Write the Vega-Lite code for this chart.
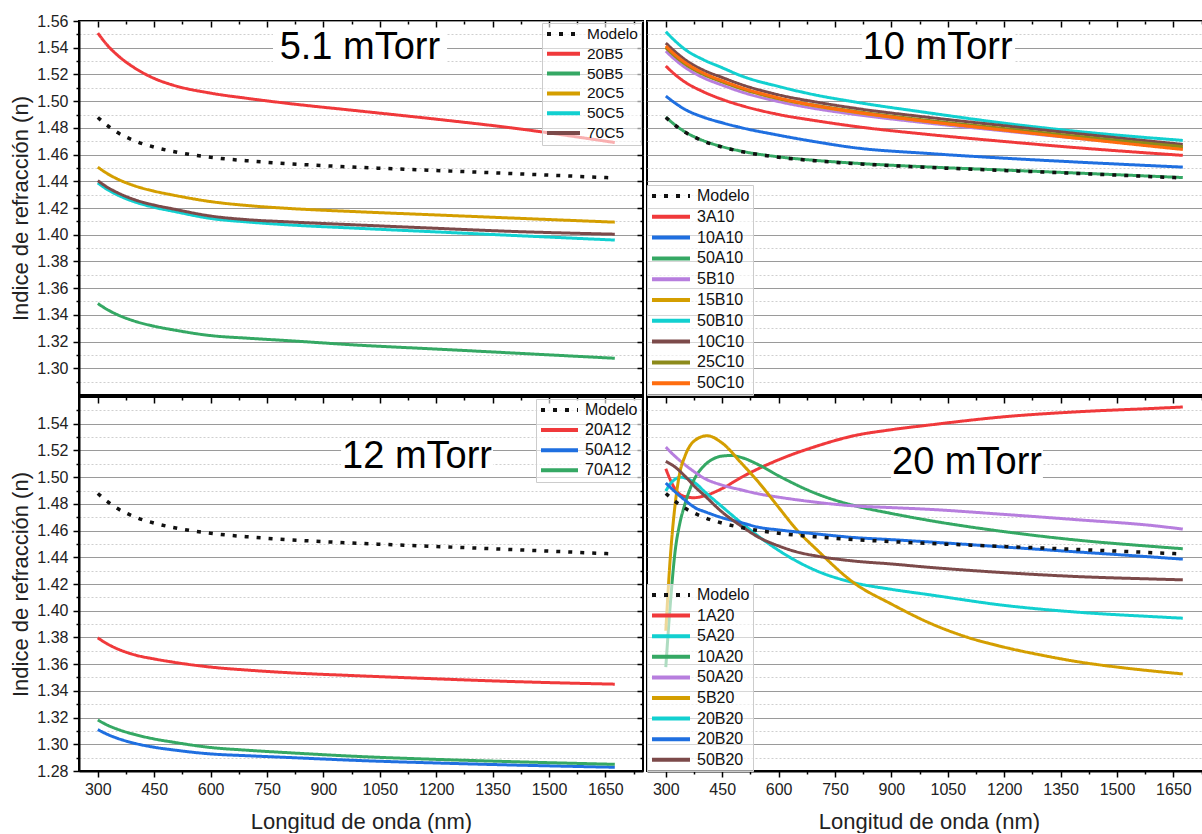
{
"$schema": "https://vega.github.io/schema/vega-lite/v6.json",
"background": "white",
"padding": {"left": 8, "top": 12, "right": 0, "bottom": 0},
"config": {
  "font": "Liberation Sans",
  "view": {"stroke": "black", "strokeWidth": 2},
  "axis": {"domainColor": "black", "domainWidth": 2, "tickColor": "black", "tickWidth": 1.5, "labelFont": "Liberation Sans", "labelFontSize": 16, "labelColor": "#222222", "titleFont": "Liberation Sans", "titleFontSize": 22, "titleFontWeight": "normal", "titleColor": "#222222", "labelOverlap": false},
  "legend": {"labelFont": "Liberation Sans", "labelFontSize": 16, "labelColor": "#111111", "symbolType": "stroke", "symbolStrokeWidth": 4, "symbolSize": 1444, "clipHeight": 16, "fillColor": "rgba(255,255,255,0.6)", "strokeColor": "#cccccc", "padding": 3, "labelOffset": 5}
},
"datasets": {
"modelo": [
{"s":"Modelo","x":300,"n":1.4878},{"s":"Modelo","x":325,"n":1.4818},{"s":"Modelo","x":350,"n":1.4769},{"s":"Modelo","x":400,"n":1.4701},{"s":"Modelo","x":450,"n":1.4656},{"s":"Modelo","x":500,"n":1.4623},{"s":"Modelo","x":600,"n":1.458},{"s":"Modelo","x":700,"n":1.4553},{"s":"Modelo","x":800,"n":1.4533},{"s":"Modelo","x":1000,"n":1.4504},{"s":"Modelo","x":1200,"n":1.4481},{"s":"Modelo","x":1400,"n":1.4458},{"s":"Modelo","x":1675,"n":1.4425}
],
"p1": [
{"s":"20B5","x":300,"n":1.551},{"s":"20B5","x":325,"n":1.542},{"s":"20B5","x":350,"n":1.535},{"s":"20B5","x":400,"n":1.5245},{"s":"20B5","x":450,"n":1.517},{"s":"20B5","x":500,"n":1.512},{"s":"20B5","x":600,"n":1.506},{"s":"20B5","x":700,"n":1.502},{"s":"20B5","x":800,"n":1.4985},{"s":"20B5","x":1000,"n":1.4925},{"s":"20B5","x":1200,"n":1.4865},{"s":"20B5","x":1400,"n":1.48},{"s":"20B5","x":1675,"n":1.469},
{"s":"50B5","x":300,"n":1.3485},{"s":"50B5","x":325,"n":1.344},{"s":"50B5","x":350,"n":1.3404},{"s":"50B5","x":400,"n":1.3351},{"s":"50B5","x":450,"n":1.3315},{"s":"50B5","x":500,"n":1.3288},{"s":"50B5","x":600,"n":1.3245},{"s":"50B5","x":700,"n":1.3225},{"s":"50B5","x":800,"n":1.3208},{"s":"50B5","x":1000,"n":1.3172},{"s":"50B5","x":1200,"n":1.3144},{"s":"50B5","x":1400,"n":1.3115},{"s":"50B5","x":1675,"n":1.3075},
{"s":"20C5","x":300,"n":1.4506},{"s":"20C5","x":325,"n":1.4458},{"s":"20C5","x":350,"n":1.442},{"s":"20C5","x":400,"n":1.4364},{"s":"20C5","x":450,"n":1.4326},{"s":"20C5","x":500,"n":1.4297},{"s":"20C5","x":600,"n":1.4248},{"s":"20C5","x":700,"n":1.4218},{"s":"20C5","x":800,"n":1.4198},{"s":"20C5","x":1000,"n":1.4171},{"s":"20C5","x":1200,"n":1.4148},{"s":"20C5","x":1400,"n":1.4125},{"s":"20C5","x":1675,"n":1.4094},
{"s":"50C5","x":300,"n":1.4388},{"s":"50C5","x":325,"n":1.4339},{"s":"50C5","x":350,"n":1.4301},{"s":"50C5","x":400,"n":1.4244},{"s":"50C5","x":450,"n":1.4205},{"s":"50C5","x":500,"n":1.4176},{"s":"50C5","x":600,"n":1.4122},{"s":"50C5","x":700,"n":1.4095},{"s":"50C5","x":800,"n":1.4075},{"s":"50C5","x":1000,"n":1.4047},{"s":"50C5","x":1200,"n":1.4021},{"s":"50C5","x":1400,"n":1.3995},{"s":"50C5","x":1675,"n":1.396},
{"s":"70C5","x":300,"n":1.4405},{"s":"70C5","x":325,"n":1.4356},{"s":"70C5","x":350,"n":1.4318},{"s":"70C5","x":400,"n":1.426},{"s":"70C5","x":450,"n":1.4222},{"s":"70C5","x":500,"n":1.4193},{"s":"70C5","x":600,"n":1.414},{"s":"70C5","x":700,"n":1.4112},{"s":"70C5","x":800,"n":1.4097},{"s":"70C5","x":1000,"n":1.4072},{"s":"70C5","x":1200,"n":1.4048},{"s":"70C5","x":1400,"n":1.4025},{"s":"70C5","x":1675,"n":1.4004}
],
"p2": [
{"s":"3A10","x":300,"n":1.5263},{"s":"3A10","x":325,"n":1.5198},{"s":"3A10","x":350,"n":1.5145},{"s":"3A10","x":400,"n":1.507},{"s":"3A10","x":450,"n":1.5013},{"s":"3A10","x":500,"n":1.4968},{"s":"3A10","x":600,"n":1.49},{"s":"3A10","x":700,"n":1.4853},{"s":"3A10","x":800,"n":1.4812},{"s":"3A10","x":1000,"n":1.475},{"s":"3A10","x":1200,"n":1.4698},{"s":"3A10","x":1400,"n":1.465},{"s":"3A10","x":1675,"n":1.4594},
{"s":"10A10","x":300,"n":1.5038},{"s":"10A10","x":325,"n":1.4985},{"s":"10A10","x":350,"n":1.494},{"s":"10A10","x":400,"n":1.488},{"s":"10A10","x":450,"n":1.4838},{"s":"10A10","x":500,"n":1.4802},{"s":"10A10","x":600,"n":1.4745},{"s":"10A10","x":700,"n":1.4695},{"s":"10A10","x":800,"n":1.4652},{"s":"10A10","x":1000,"n":1.4608},{"s":"10A10","x":1200,"n":1.4573},{"s":"10A10","x":1400,"n":1.4543},{"s":"10A10","x":1675,"n":1.4506},
{"s":"50A10","x":300,"n":1.4881},{"s":"50A10","x":325,"n":1.4821},{"s":"50A10","x":350,"n":1.4772},{"s":"50A10","x":400,"n":1.4704},{"s":"50A10","x":450,"n":1.4659},{"s":"50A10","x":500,"n":1.4626},{"s":"50A10","x":600,"n":1.4583},{"s":"50A10","x":700,"n":1.4556},{"s":"50A10","x":800,"n":1.4536},{"s":"50A10","x":1000,"n":1.4507},{"s":"50A10","x":1200,"n":1.4484},{"s":"50A10","x":1400,"n":1.4461},{"s":"50A10","x":1675,"n":1.4428},
{"s":"5B10","x":300,"n":1.5375},{"s":"5B10","x":325,"n":1.531},{"s":"5B10","x":350,"n":1.5255},{"s":"5B10","x":400,"n":1.5175},{"s":"5B10","x":450,"n":1.512},{"s":"5B10","x":500,"n":1.507},{"s":"5B10","x":600,"n":1.4997},{"s":"5B10","x":700,"n":1.4943},{"s":"5B10","x":800,"n":1.4902},{"s":"5B10","x":1000,"n":1.4835},{"s":"5B10","x":1200,"n":1.4777},{"s":"5B10","x":1400,"n":1.472},{"s":"5B10","x":1675,"n":1.465},
{"s":"15B10","x":300,"n":1.5405},{"s":"15B10","x":325,"n":1.534},{"s":"15B10","x":350,"n":1.5284},{"s":"15B10","x":400,"n":1.5203},{"s":"15B10","x":450,"n":1.5146},{"s":"15B10","x":500,"n":1.5095},{"s":"15B10","x":600,"n":1.5018},{"s":"15B10","x":700,"n":1.4962},{"s":"15B10","x":800,"n":1.4918},{"s":"15B10","x":1000,"n":1.4846},{"s":"15B10","x":1200,"n":1.4785},{"s":"15B10","x":1400,"n":1.4725},{"s":"15B10","x":1675,"n":1.4648},
{"s":"50B10","x":300,"n":1.552},{"s":"50B10","x":325,"n":1.545},{"s":"50B10","x":350,"n":1.539},{"s":"50B10","x":400,"n":1.531},{"s":"50B10","x":450,"n":1.525},{"s":"50B10","x":500,"n":1.519},{"s":"50B10","x":600,"n":1.511},{"s":"50B10","x":700,"n":1.5045},{"s":"50B10","x":800,"n":1.4995},{"s":"50B10","x":1000,"n":1.4912},{"s":"50B10","x":1200,"n":1.4835},{"s":"50B10","x":1400,"n":1.4772},{"s":"50B10","x":1675,"n":1.4706},
{"s":"10C10","x":300,"n":1.5435},{"s":"10C10","x":325,"n":1.537},{"s":"10C10","x":350,"n":1.5313},{"s":"10C10","x":400,"n":1.5232},{"s":"10C10","x":450,"n":1.5177},{"s":"10C10","x":500,"n":1.5125},{"s":"10C10","x":600,"n":1.5047},{"s":"10C10","x":700,"n":1.4993},{"s":"10C10","x":800,"n":1.4948},{"s":"10C10","x":1000,"n":1.4878},{"s":"10C10","x":1200,"n":1.4816},{"s":"10C10","x":1400,"n":1.4755},{"s":"10C10","x":1675,"n":1.4676},
{"s":"25C10","x":300,"n":1.54},{"s":"25C10","x":325,"n":1.5335},{"s":"25C10","x":350,"n":1.528},{"s":"25C10","x":400,"n":1.52},{"s":"25C10","x":450,"n":1.5145},{"s":"25C10","x":500,"n":1.5095},{"s":"25C10","x":600,"n":1.502},{"s":"25C10","x":700,"n":1.4968},{"s":"25C10","x":800,"n":1.4925},{"s":"25C10","x":1000,"n":1.4855},{"s":"25C10","x":1200,"n":1.4795},{"s":"25C10","x":1400,"n":1.4735},{"s":"25C10","x":1675,"n":1.466},
{"s":"50C10","x":300,"n":1.5413},{"s":"50C10","x":325,"n":1.5347},{"s":"50C10","x":350,"n":1.5292},{"s":"50C10","x":400,"n":1.521},{"s":"50C10","x":450,"n":1.5153},{"s":"50C10","x":500,"n":1.5102},{"s":"50C10","x":600,"n":1.5024},{"s":"50C10","x":700,"n":1.4966},{"s":"50C10","x":800,"n":1.4921},{"s":"50C10","x":1000,"n":1.4847},{"s":"50C10","x":1200,"n":1.4783},{"s":"50C10","x":1400,"n":1.472},{"s":"50C10","x":1675,"n":1.4638}
],
"p3": [
{"s":"20A12","x":300,"n":1.3797},{"s":"20A12","x":325,"n":1.3752},{"s":"20A12","x":350,"n":1.3717},{"s":"20A12","x":400,"n":1.3668},{"s":"20A12","x":450,"n":1.3639},{"s":"20A12","x":500,"n":1.3615},{"s":"20A12","x":600,"n":1.3578},{"s":"20A12","x":700,"n":1.3555},{"s":"20A12","x":800,"n":1.3537},{"s":"20A12","x":1000,"n":1.3512},{"s":"20A12","x":1200,"n":1.349},{"s":"20A12","x":1400,"n":1.347},{"s":"20A12","x":1675,"n":1.345},
{"s":"50A12","x":300,"n":1.311},{"s":"50A12","x":325,"n":1.3075},{"s":"50A12","x":350,"n":1.3047},{"s":"50A12","x":400,"n":1.3006},{"s":"50A12","x":450,"n":1.2978},{"s":"50A12","x":500,"n":1.2958},{"s":"50A12","x":600,"n":1.2928},{"s":"50A12","x":700,"n":1.2914},{"s":"50A12","x":800,"n":1.2902},{"s":"50A12","x":1000,"n":1.2878},{"s":"50A12","x":1200,"n":1.286},{"s":"50A12","x":1400,"n":1.2845},{"s":"50A12","x":1675,"n":1.2828},
{"s":"70A12","x":300,"n":1.3182},{"s":"70A12","x":325,"n":1.3144},{"s":"70A12","x":350,"n":1.3115},{"s":"70A12","x":400,"n":1.3072},{"s":"70A12","x":450,"n":1.304},{"s":"70A12","x":500,"n":1.3016},{"s":"70A12","x":600,"n":1.2976},{"s":"70A12","x":700,"n":1.2955},{"s":"70A12","x":800,"n":1.2938},{"s":"70A12","x":1000,"n":1.2908},{"s":"70A12","x":1200,"n":1.2887},{"s":"70A12","x":1400,"n":1.287},{"s":"70A12","x":1675,"n":1.285}
],
"p4": [
{"s":"1A20","x":300,"n":1.5063},{"s":"1A20","x":312,"n":1.498},{"s":"1A20","x":325,"n":1.491},{"s":"1A20","x":350,"n":1.4855},{"s":"1A20","x":375,"n":1.4846},{"s":"1A20","x":400,"n":1.4858},{"s":"1A20","x":450,"n":1.4915},{"s":"1A20","x":500,"n":1.4997},{"s":"1A20","x":600,"n":1.513},{"s":"1A20","x":700,"n":1.5231},{"s":"1A20","x":800,"n":1.531},{"s":"1A20","x":900,"n":1.5355},{"s":"1A20","x":1000,"n":1.539},{"s":"1A20","x":1200,"n":1.5452},{"s":"1A20","x":1400,"n":1.549},{"s":"1A20","x":1600,"n":1.5515},{"s":"1A20","x":1675,"n":1.5525},
{"s":"5A20","x":300,"n":1.4896},{"s":"5A20","x":312,"n":1.495},{"s":"5A20","x":325,"n":1.4985},{"s":"5A20","x":340,"n":1.5},{"s":"5A20","x":360,"n":1.4985},{"s":"5A20","x":383,"n":1.4945},{"s":"5A20","x":400,"n":1.49},{"s":"5A20","x":450,"n":1.4778},{"s":"5A20","x":500,"n":1.466},{"s":"5A20","x":550,"n":1.455},{"s":"5A20","x":600,"n":1.4452},{"s":"5A20","x":650,"n":1.4368},{"s":"5A20","x":700,"n":1.43},{"s":"5A20","x":800,"n":1.421},{"s":"5A20","x":900,"n":1.416},{"s":"5A20","x":1000,"n":1.412},{"s":"5A20","x":1200,"n":1.404},{"s":"5A20","x":1400,"n":1.3988},{"s":"5A20","x":1600,"n":1.3955},{"s":"5A20","x":1675,"n":1.3944},
{"s":"10A20","x":300,"n":1.3577},{"s":"10A20","x":312,"n":1.405},{"s":"10A20","x":325,"n":1.445},{"s":"10A20","x":337,"n":1.465},{"s":"10A20","x":350,"n":1.479},{"s":"10A20","x":375,"n":1.498},{"s":"10A20","x":400,"n":1.508},{"s":"10A20","x":425,"n":1.5135},{"s":"10A20","x":450,"n":1.5158},{"s":"10A20","x":475,"n":1.5162},{"s":"10A20","x":500,"n":1.5148},{"s":"10A20","x":550,"n":1.5088},{"s":"10A20","x":600,"n":1.501},{"s":"10A20","x":700,"n":1.4877},{"s":"10A20","x":800,"n":1.4788},{"s":"10A20","x":900,"n":1.4728},{"s":"10A20","x":1000,"n":1.4676},{"s":"10A20","x":1200,"n":1.4592},{"s":"10A20","x":1400,"n":1.4527},{"s":"10A20","x":1600,"n":1.448},{"s":"10A20","x":1675,"n":1.4464},
{"s":"50A20","x":300,"n":1.5225},{"s":"50A20","x":325,"n":1.5155},{"s":"50A20","x":350,"n":1.5095},{"s":"50A20","x":383,"n":1.5026},{"s":"50A20","x":400,"n":1.4995},{"s":"50A20","x":450,"n":1.494},{"s":"50A20","x":500,"n":1.4905},{"s":"50A20","x":550,"n":1.4873},{"s":"50A20","x":600,"n":1.485},{"s":"50A20","x":700,"n":1.4812},{"s":"50A20","x":800,"n":1.4785},{"s":"50A20","x":900,"n":1.4772},{"s":"50A20","x":1000,"n":1.4759},{"s":"50A20","x":1200,"n":1.4721},{"s":"50A20","x":1400,"n":1.468},{"s":"50A20","x":1600,"n":1.4636},{"s":"50A20","x":1675,"n":1.4611},
{"s":"5B20","x":300,"n":1.385},{"s":"5B20","x":312,"n":1.44},{"s":"5B20","x":325,"n":1.48},{"s":"5B20","x":337,"n":1.503},{"s":"5B20","x":350,"n":1.515},{"s":"5B20","x":375,"n":1.527},{"s":"5B20","x":410,"n":1.531},{"s":"5B20","x":450,"n":1.5255},{"s":"5B20","x":500,"n":1.5108},{"s":"5B20","x":550,"n":1.4951},{"s":"5B20","x":600,"n":1.4774},{"s":"5B20","x":650,"n":1.46},{"s":"5B20","x":700,"n":1.4461},{"s":"5B20","x":800,"n":1.4209},{"s":"5B20","x":900,"n":1.405},{"s":"5B20","x":1000,"n":1.391},{"s":"5B20","x":1100,"n":1.3803},{"s":"5B20","x":1200,"n":1.3727},{"s":"5B20","x":1300,"n":1.3667},{"s":"5B20","x":1400,"n":1.3616},{"s":"5B20","x":1500,"n":1.3578},{"s":"5B20","x":1600,"n":1.3547},{"s":"5B20","x":1675,"n":1.3527},
{"s":"20B20","x":300,"n":1.4956},{"s":"20B20","x":325,"n":1.489},{"s":"20B20","x":350,"n":1.483},{"s":"20B20","x":383,"n":1.4763},{"s":"20B20","x":400,"n":1.4745},{"s":"20B20","x":450,"n":1.4696},{"s":"20B20","x":500,"n":1.466},{"s":"20B20","x":550,"n":1.4623},{"s":"20B20","x":600,"n":1.4605},{"s":"20B20","x":700,"n":1.4575},{"s":"20B20","x":800,"n":1.4548},{"s":"20B20","x":900,"n":1.4532},{"s":"20B20","x":1000,"n":1.4515},{"s":"20B20","x":1200,"n":1.4477},{"s":"20B20","x":1400,"n":1.4439},{"s":"20B20","x":1600,"n":1.4401},{"s":"20B20","x":1675,"n":1.4386},
{"s":"50B20","x":300,"n":1.5118},{"s":"50B20","x":325,"n":1.5075},{"s":"50B20","x":350,"n":1.501},{"s":"50B20","x":383,"n":1.4913},{"s":"50B20","x":400,"n":1.487},{"s":"50B20","x":450,"n":1.4738},{"s":"50B20","x":500,"n":1.4635},{"s":"50B20","x":550,"n":1.4545},{"s":"50B20","x":600,"n":1.4485},{"s":"50B20","x":650,"n":1.4439},{"s":"50B20","x":700,"n":1.441},{"s":"50B20","x":800,"n":1.4372},{"s":"50B20","x":900,"n":1.435},{"s":"50B20","x":1000,"n":1.4325},{"s":"50B20","x":1200,"n":1.4285},{"s":"50B20","x":1400,"n":1.4255},{"s":"50B20","x":1600,"n":1.4237},{"s":"50B20","x":1675,"n":1.4231}
]
},
"spacing": -2,
"resolve": {"scale": {"color": "independent", "strokeDash": "independent", "x": "independent", "y": "independent"}},
"vconcat": [
{"hconcat": [
 {"width": 564, "height": 374,
  "layer": [
   {"data": {"values": [{}]}, "mark": {"type": "rect", "fill": "white"},
    "encoding": {"x": {"datum": 766, "type": "quantitative", "scale": {"domain": [250,1750], "nice": false, "zero": false}, "axis": null}, "x2": {"datum": 1229},
                 "y": {"datum": 1.5275, "type": "quantitative", "scale": {"domain": [1.28,1.56], "nice": false, "zero": false}, "axis": null}, "y2": {"datum": 1.5525}}},
   {"data": {"values": [{}]}, "mark": {"type": "text", "text": "5.1 mTorr", "fontSize": 38, "font": "Liberation Sans", "color": "black", "align": "center", "baseline": "middle"},
    "encoding": {"x": {"datum": 997, "type": "quantitative", "scale": {"domain": [250,1750], "nice": false, "zero": false}, "axis": null},
                 "y": {"datum": 1.5395, "type": "quantitative", "scale": {"domain": [1.28,1.56], "nice": false, "zero": false}, "axis": null}}},
   {"data": {"name": "p1"}, "mark": {"type": "line", "strokeWidth": 3, "interpolate": "monotone", "clip": true},
    "encoding": {
     "x": {"field": "x", "type": "quantitative", "scale": {"domain": [250,1750], "nice": false, "zero": false}, "axis": null},
     "y": {"field": "n", "type": "quantitative", "scale": {"domain": [1.28,1.56], "nice": false, "zero": false},
           "axis": {"title": "Indice de refracción (n)", "values": [1.29,1.3,1.31,1.32,1.33,1.34,1.35,1.36,1.37,1.38,1.39,1.4,1.41,1.42,1.43,1.44,1.45,1.46,1.47,1.48,1.49,1.5,1.51,1.52,1.53,1.54,1.55,1.56],
                    "labelExpr": "round(datum.value*100)%2==0 ? format(datum.value,'.2f') : ''",
                    "tickSize": {"condition": {"test": "round(datum.value*100)%2==0", "value": 6}, "value": 3},
                    "grid": true,
                    "gridColor": {"condition": {"test": "round(datum.value*100)%2==0", "value": "#9a9a9a"}, "value": "#cfcfcf"},
                    "gridDash": {"condition": {"test": "round(datum.value*100)%2==0", "value": []}, "value": [2,2]},
                    "labelPadding": 5, "titlePadding": 4}},
     "color": {"field": "s", "type": "nominal", "scale": {"domain": ["Modelo","20B5","50B5","20C5","50C5","70C5"], "range": ["#111111","#F0393B","#35A864","#D49E00","#12D0D0","#7C4A4A"]}, "legend": {"title": null, "orient": "top-right", "offset": 2, "rowPadding": 2.8, "labelFontSize": 15.5, "symbolSize": 1089}},
     "strokeDash": {"field": "s", "type": "nominal", "scale": {"domain": ["Modelo","20B5","50B5","20C5","50C5","70C5"], "range": [[4,8],[1,0],[1,0],[1,0],[1,0],[1,0]]}, "legend": {"title": null, "orient": "top-right", "offset": 2, "rowPadding": 2.8, "labelFontSize": 15.5, "symbolSize": 1089}}
    }},
   {"data": {"name": "modelo"}, "mark": {"type": "line", "strokeWidth": 3.5, "interpolate": "monotone", "clip": true},
    "encoding": {
     "x": {"field": "x", "type": "quantitative", "scale": {"domain": [250,1750], "nice": false, "zero": false},
           "axis": {"orient": "top", "values": [300,375,450,525,600,675,750,825,900,975,1050,1125,1200,1275,1350,1425,1500,1575,1650,1725], "labels": false, "domain": false, "grid": false, "title": null,
                    "tickSize": {"condition": {"test": "datum.value % 150 == 0", "value": -6}, "value": -3}}},
     "y": {"field": "n", "type": "quantitative", "scale": {"domain": [1.28,1.56], "nice": false, "zero": false},
           "axis": {"orient": "right", "values": [1.29,1.3,1.31,1.32,1.33,1.34,1.35,1.36,1.37,1.38,1.39,1.4,1.41,1.42,1.43,1.44,1.45,1.46,1.47,1.48,1.49,1.5,1.51,1.52,1.53,1.54,1.55], "labels": false, "domain": false, "grid": false, "title": null,
                    "tickSize": {"condition": {"test": "round(datum.value*100)%2==0", "value": -6}, "value": -3}}},
     "color": {"field": "s", "type": "nominal", "scale": {"domain": ["Modelo","20B5","50B5","20C5","50C5","70C5"], "range": ["#111111","#F0393B","#35A864","#D49E00","#12D0D0","#7C4A4A"]}, "legend": {"title": null, "orient": "top-right", "offset": 2, "rowPadding": 2.8, "labelFontSize": 15.5, "symbolSize": 1089}},
     "strokeDash": {"field": "s", "type": "nominal", "scale": {"domain": ["Modelo","20B5","50B5","20C5","50C5","70C5"], "range": [[4,8],[1,0],[1,0],[1,0],[1,0],[1,0]]}, "legend": {"title": null, "orient": "top-right", "offset": 2, "rowPadding": 2.8, "labelFontSize": 15.5, "symbolSize": 1089}}
    }}
  ],
  "resolve": {"axis": {"x": "independent", "y": "independent"}}
 },
 {"width": 564, "height": 374,
  "layer": [
   {"data": {"values": [{}]}, "mark": {"type": "rect", "fill": "white"},
    "encoding": {"x": {"datum": 822, "type": "quantitative", "scale": {"domain": [250,1750], "nice": false, "zero": false}, "axis": null}, "x2": {"datum": 1229},
                 "y": {"datum": 1.5275, "type": "quantitative", "scale": {"domain": [1.28,1.56], "nice": false, "zero": false}, "axis": null}, "y2": {"datum": 1.5525}}},
   {"data": {"values": [{}]}, "mark": {"type": "text", "text": "10 mTorr", "fontSize": 38, "font": "Liberation Sans", "color": "black", "align": "center", "baseline": "middle"},
    "encoding": {"x": {"datum": 1023, "type": "quantitative", "scale": {"domain": [250,1750], "nice": false, "zero": false}, "axis": null},
                 "y": {"datum": 1.5395, "type": "quantitative", "scale": {"domain": [1.28,1.56], "nice": false, "zero": false}, "axis": null}}},
   {"data": {"name": "p2"}, "mark": {"type": "line", "strokeWidth": 3, "interpolate": "monotone", "clip": true},
    "encoding": {
     "x": {"field": "x", "type": "quantitative", "scale": {"domain": [250,1750], "nice": false, "zero": false}, "axis": null},
     "y": {"field": "n", "type": "quantitative", "scale": {"domain": [1.28,1.56], "nice": false, "zero": false},
           "axis": {"title": null, "labels": false, "ticks": false, "domain": false, "values": [1.29,1.3,1.31,1.32,1.33,1.34,1.35,1.36,1.37,1.38,1.39,1.4,1.41,1.42,1.43,1.44,1.45,1.46,1.47,1.48,1.49,1.5,1.51,1.52,1.53,1.54,1.55,1.56],
                    "grid": true,
                    "gridColor": {"condition": {"test": "round(datum.value*100)%2==0", "value": "#9a9a9a"}, "value": "#cfcfcf"},
                    "gridDash": {"condition": {"test": "round(datum.value*100)%2==0", "value": []}, "value": [2,2]}}},
     "color": {"field": "s", "type": "nominal", "scale": {"domain": ["Modelo","3A10","10A10","50A10","5B10","15B10","50B10","10C10","25C10","50C10"], "range": ["#111111","#F0393B","#1F6FE0","#35A864","#B77EDE","#D49E00","#12D0D0","#7C4A4A","#8C8A1A","#FF6D0F"]}, "legend": {"title": null, "orient": "bottom-left", "offset": 0, "rowPadding": 4.8}},
     "strokeDash": {"field": "s", "type": "nominal", "scale": {"domain": ["Modelo","3A10","10A10","50A10","5B10","15B10","50B10","10C10","25C10","50C10"], "range": [[4,8],[1,0],[1,0],[1,0],[1,0],[1,0],[1,0],[1,0],[1,0],[1,0]]}, "legend": {"title": null, "orient": "bottom-left", "offset": 0, "rowPadding": 4.8}}
    }},
   {"data": {"name": "modelo"}, "mark": {"type": "line", "strokeWidth": 3.5, "interpolate": "monotone", "clip": true},
    "encoding": {
     "x": {"field": "x", "type": "quantitative", "scale": {"domain": [250,1750], "nice": false, "zero": false},
           "axis": {"orient": "top", "values": [300,375,450,525,600,675,750,825,900,975,1050,1125,1200,1275,1350,1425,1500,1575,1650,1725], "labels": false, "domain": false, "grid": false, "title": null,
                    "tickSize": {"condition": {"test": "datum.value % 150 == 0", "value": -6}, "value": -3}}},
     "y": {"field": "n", "type": "quantitative", "scale": {"domain": [1.28,1.56], "nice": false, "zero": false}, "axis": null},
     "color": {"field": "s", "type": "nominal", "scale": {"domain": ["Modelo","3A10","10A10","50A10","5B10","15B10","50B10","10C10","25C10","50C10"], "range": ["#111111","#F0393B","#1F6FE0","#35A864","#B77EDE","#D49E00","#12D0D0","#7C4A4A","#8C8A1A","#FF6D0F"]}, "legend": {"title": null, "orient": "bottom-left", "offset": 0, "rowPadding": 4.8}},
     "strokeDash": {"field": "s", "type": "nominal", "scale": {"domain": ["Modelo","3A10","10A10","50A10","5B10","15B10","50B10","10C10","25C10","50C10"], "range": [[4,8],[1,0],[1,0],[1,0],[1,0],[1,0],[1,0],[1,0],[1,0],[1,0]]}, "legend": {"title": null, "orient": "bottom-left", "offset": 0, "rowPadding": 4.8}}
    }}
  ],
  "resolve": {"axis": {"x": "independent", "y": "independent"}}
 }
],
"spacing": 0,
"resolve": {"scale": {"color": "independent", "strokeDash": "independent", "x": "independent", "y": "independent"}}
},
{"hconcat": [
 {"width": 564, "height": 374,
  "layer": [
   {"data": {"values": [{}]}, "mark": {"type": "rect", "fill": "white"},
    "encoding": {"x": {"datum": 947, "type": "quantitative", "scale": {"domain": [250,1750], "nice": false, "zero": false}, "axis": null}, "x2": {"datum": 1351},
                 "y": {"datum": 1.503, "type": "quantitative", "scale": {"domain": [1.28,1.56], "nice": false, "zero": false}, "axis": null}, "y2": {"datum": 1.527}}},
   {"data": {"values": [{}]}, "mark": {"type": "text", "text": "12 mTorr", "fontSize": 38, "font": "Liberation Sans", "color": "black", "align": "center", "baseline": "middle"},
    "encoding": {"x": {"datum": 1149, "type": "quantitative", "scale": {"domain": [250,1750], "nice": false, "zero": false}, "axis": null},
                 "y": {"datum": 1.515, "type": "quantitative", "scale": {"domain": [1.28,1.56], "nice": false, "zero": false}, "axis": null}}},
   {"data": {"name": "p3"}, "mark": {"type": "line", "strokeWidth": 3, "interpolate": "monotone", "clip": true},
    "encoding": {
     "x": {"field": "x", "type": "quantitative", "scale": {"domain": [250,1750], "nice": false, "zero": false},
           "axis": {"title": "Longitud de onda (nm)", "values": [300,375,450,525,600,675,750,825,900,975,1050,1125,1200,1275,1350,1425,1500,1575,1650,1725],
                    "labelExpr": "datum.value % 150 == 0 ? '' + datum.value : ''", "grid": false,
                    "tickSize": {"condition": {"test": "datum.value % 150 == 0", "value": 6}, "value": 3},
                    "labelPadding": 4, "titlePadding": 14}},
     "y": {"field": "n", "type": "quantitative", "scale": {"domain": [1.28,1.56], "nice": false, "zero": false},
           "axis": {"title": "Indice de refracción (n)", "values": [1.28,1.29,1.3,1.31,1.32,1.33,1.34,1.35,1.36,1.37,1.38,1.39,1.4,1.41,1.42,1.43,1.44,1.45,1.46,1.47,1.48,1.49,1.5,1.51,1.52,1.53,1.54,1.55],
                    "labelExpr": "round(datum.value*100)%2==0 ? format(datum.value,'.2f') : ''",
                    "tickSize": {"condition": {"test": "round(datum.value*100)%2==0", "value": 6}, "value": 3},
                    "grid": true,
                    "gridColor": {"condition": {"test": "round(datum.value*100)%2==0", "value": "#9a9a9a"}, "value": "#cfcfcf"},
                    "gridDash": {"condition": {"test": "round(datum.value*100)%2==0", "value": []}, "value": [2,2]},
                    "labelPadding": 5, "titlePadding": 4}},
     "color": {"field": "s", "type": "nominal", "scale": {"domain": ["Modelo","20A12","50A12","70A12"], "range": ["#111111","#F0393B","#1F6FE0","#35A864"]}, "legend": {"title": null, "orient": "top-right", "offset": 2, "rowPadding": 4.1, "symbolSize": 1369}},
     "strokeDash": {"field": "s", "type": "nominal", "scale": {"domain": ["Modelo","20A12","50A12","70A12"], "range": [[4,8],[1,0],[1,0],[1,0]]}, "legend": {"title": null, "orient": "top-right", "offset": 2, "rowPadding": 4.1, "symbolSize": 1369}}
    }},
   {"data": {"name": "modelo"}, "mark": {"type": "line", "strokeWidth": 3.5, "interpolate": "monotone", "clip": true},
    "encoding": {
     "x": {"field": "x", "type": "quantitative", "scale": {"domain": [250,1750], "nice": false, "zero": false},
           "axis": {"orient": "top", "values": [300,375,450,525,600,675,750,825,900,975,1050,1125,1200,1275,1350,1425,1500,1575,1650,1725], "labels": false, "domain": false, "grid": false, "title": null,
                    "tickSize": {"condition": {"test": "datum.value % 150 == 0", "value": -6}, "value": -3}}},
     "y": {"field": "n", "type": "quantitative", "scale": {"domain": [1.28,1.56], "nice": false, "zero": false},
           "axis": {"orient": "right", "values": [1.29,1.3,1.31,1.32,1.33,1.34,1.35,1.36,1.37,1.38,1.39,1.4,1.41,1.42,1.43,1.44,1.45,1.46,1.47,1.48,1.49,1.5,1.51,1.52,1.53,1.54,1.55], "labels": false, "domain": false, "grid": false, "title": null,
                    "tickSize": {"condition": {"test": "round(datum.value*100)%2==0", "value": -6}, "value": -3}}},
     "color": {"field": "s", "type": "nominal", "scale": {"domain": ["Modelo","20A12","50A12","70A12"], "range": ["#111111","#F0393B","#1F6FE0","#35A864"]}, "legend": {"title": null, "orient": "top-right", "offset": 2, "rowPadding": 4.1, "symbolSize": 1369}},
     "strokeDash": {"field": "s", "type": "nominal", "scale": {"domain": ["Modelo","20A12","50A12","70A12"], "range": [[4,8],[1,0],[1,0],[1,0]]}, "legend": {"title": null, "orient": "top-right", "offset": 2, "rowPadding": 4.1, "symbolSize": 1369}}
    }}
  ],
  "resolve": {"axis": {"x": "independent", "y": "independent"}}
 },
 {"width": 564, "height": 374,
  "layer": [
   {"data": {"values": [{}]}, "mark": {"type": "rect", "fill": "white"},
    "encoding": {"x": {"datum": 899, "type": "quantitative", "scale": {"domain": [250,1750], "nice": false, "zero": false}, "axis": null}, "x2": {"datum": 1303},
                 "y": {"datum": 1.4965, "type": "quantitative", "scale": {"domain": [1.28,1.56], "nice": false, "zero": false}, "axis": null}, "y2": {"datum": 1.525}}},
   {"data": {"values": [{}]}, "mark": {"type": "text", "text": "20 mTorr", "fontSize": 38, "font": "Liberation Sans", "color": "black", "align": "center", "baseline": "middle"},
    "encoding": {"x": {"datum": 1101, "type": "quantitative", "scale": {"domain": [250,1750], "nice": false, "zero": false}, "axis": null},
                 "y": {"datum": 1.5105, "type": "quantitative", "scale": {"domain": [1.28,1.56], "nice": false, "zero": false}, "axis": null}}},
   {"data": {"name": "p4"}, "mark": {"type": "line", "strokeWidth": 3, "interpolate": "monotone", "clip": true},
    "encoding": {
     "x": {"field": "x", "type": "quantitative", "scale": {"domain": [250,1750], "nice": false, "zero": false},
           "axis": {"title": "Longitud de onda (nm)", "values": [300,375,450,525,600,675,750,825,900,975,1050,1125,1200,1275,1350,1425,1500,1575,1650,1725],
                    "labelExpr": "datum.value % 150 == 0 ? '' + datum.value : ''", "grid": false,
                    "tickSize": {"condition": {"test": "datum.value % 150 == 0", "value": 6}, "value": 3},
                    "labelPadding": 4, "titlePadding": 14}},
     "y": {"field": "n", "type": "quantitative", "scale": {"domain": [1.28,1.56], "nice": false, "zero": false},
           "axis": {"title": null, "labels": false, "ticks": false, "domain": false, "values": [1.28,1.29,1.3,1.31,1.32,1.33,1.34,1.35,1.36,1.37,1.38,1.39,1.4,1.41,1.42,1.43,1.44,1.45,1.46,1.47,1.48,1.49,1.5,1.51,1.52,1.53,1.54,1.55],
                    "grid": true,
                    "gridColor": {"condition": {"test": "round(datum.value*100)%2==0", "value": "#9a9a9a"}, "value": "#cfcfcf"},
                    "gridDash": {"condition": {"test": "round(datum.value*100)%2==0", "value": []}, "value": [2,2]}}},
     "color": {"field": "s", "type": "nominal", "scale": {"domain": ["Modelo","1A20","5A20","10A20","50A20","5B20","20B20 ","20B20","50B20"], "range": ["#111111","#F0393B","#12D0D0","#35A864","#B77EDE","#D49E00","#12D0D0","#1F6FE0","#7C4A4A"]}, "legend": {"title": null, "orient": "bottom-left", "offset": 0, "rowPadding": 4.6}},
     "strokeDash": {"field": "s", "type": "nominal", "scale": {"domain": ["Modelo","1A20","5A20","10A20","50A20","5B20","20B20 ","20B20","50B20"], "range": [[4,8],[1,0],[1,0],[1,0],[1,0],[1,0],[1,0],[1,0],[1,0]]}, "legend": {"title": null, "orient": "bottom-left", "offset": 0, "rowPadding": 4.6}}
    }},
   {"data": {"name": "modelo"}, "mark": {"type": "line", "strokeWidth": 3.5, "interpolate": "monotone", "clip": true},
    "encoding": {
     "x": {"field": "x", "type": "quantitative", "scale": {"domain": [250,1750], "nice": false, "zero": false},
           "axis": {"orient": "top", "values": [300,375,450,525,600,675,750,825,900,975,1050,1125,1200,1275,1350,1425,1500,1575,1650,1725], "labels": false, "domain": false, "grid": false, "title": null,
                    "tickSize": {"condition": {"test": "datum.value % 150 == 0", "value": -6}, "value": -3}}},
     "y": {"field": "n", "type": "quantitative", "scale": {"domain": [1.28,1.56], "nice": false, "zero": false}, "axis": null},
     "color": {"field": "s", "type": "nominal", "scale": {"domain": ["Modelo","1A20","5A20","10A20","50A20","5B20","20B20 ","20B20","50B20"], "range": ["#111111","#F0393B","#12D0D0","#35A864","#B77EDE","#D49E00","#12D0D0","#1F6FE0","#7C4A4A"]}, "legend": {"title": null, "orient": "bottom-left", "offset": 0, "rowPadding": 4.6}},
     "strokeDash": {"field": "s", "type": "nominal", "scale": {"domain": ["Modelo","1A20","5A20","10A20","50A20","5B20","20B20 ","20B20","50B20"], "range": [[4,8],[1,0],[1,0],[1,0],[1,0],[1,0],[1,0],[1,0],[1,0]]}, "legend": {"title": null, "orient": "bottom-left", "offset": 0, "rowPadding": 4.6}}
    }}
  ],
  "resolve": {"axis": {"x": "independent", "y": "independent"}}
 }
],
"spacing": 0,
"resolve": {"scale": {"color": "independent", "strokeDash": "independent", "x": "independent", "y": "independent"}}
}
]
}
